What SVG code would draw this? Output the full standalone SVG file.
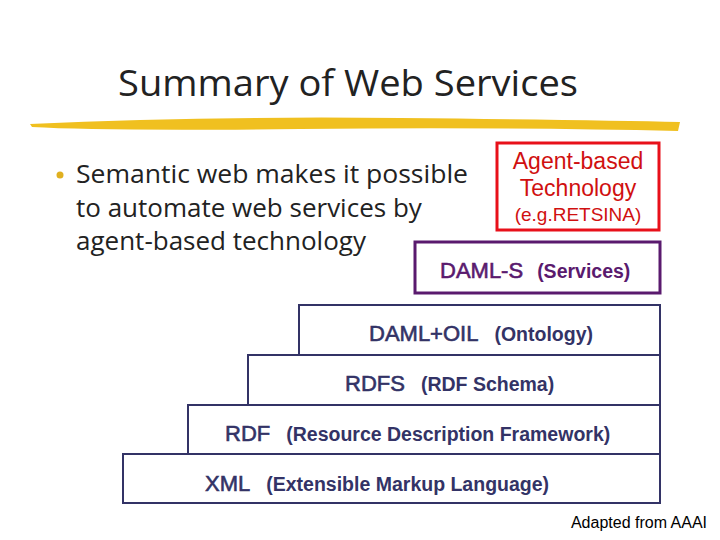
<svg xmlns="http://www.w3.org/2000/svg" width="720" height="540" viewBox="0 0 720 540">
<style>
.t{font-family:"Liberation Sans",Arial,sans-serif;font-weight:bold;fill:#333366}
.s{font-size:22px;font-weight:normal;stroke:#333366;stroke-width:0.6}.m{font-size:19.5px}
.box{fill:#fff;stroke:#333366;stroke-width:2}
</style>
<rect width="720" height="540" fill="#fff"/>
<text x="348" y="96" text-anchor="middle" font-family="Open Sans,sans-serif" font-size="37" fill="#222" textLength="460" lengthAdjust="spacingAndGlyphs">Summary of Web Services</text>
<path d="M30 124 Q200 116 400 118 T680 122 L678 131 Q500 127 300 129 T32 127 Z" fill="#f0c020"/>
<circle cx="60" cy="175" r="3.5" fill="#e0b020"/>
<g font-family="Open Sans,sans-serif" font-size="26" fill="#222">
<text x="76" y="183" textLength="392" lengthAdjust="spacingAndGlyphs">Semantic web makes it possible</text>
<text x="76" y="217">to automate web services by</text>
<text x="76" y="250">agent-based technology</text>
</g>
<g id="xml"><rect class="box" x="123" y="454" width="537" height="49"/><text class="t" x="205" y="491"><tspan class="s">XML</tspan><tspan class="m" dx="16">(Extensible Markup Language)</tspan></text></g>
<g id="rdf"><rect class="box" x="188" y="405" width="472" height="49"/><text class="t" x="225" y="441"><tspan class="s">RDF</tspan><tspan class="m" dx="16">(Resource Description Framework)</tspan></text></g>
<g id="rdfs"><rect class="box" x="248" y="355" width="412" height="50"/><text class="t" x="345" y="391"><tspan class="s">RDFS</tspan><tspan class="m" dx="16">(RDF Schema)</tspan></text></g>
<g id="damloil"><rect class="box" x="299" y="305" width="361" height="50"/><text class="t" x="369" y="341"><tspan class="s">DAML+OIL</tspan><tspan class="m" dx="16">(Ontology)</tspan></text></g>
<g id="damls"><rect x="415" y="242" width="245" height="51" fill="#fff" stroke="#5a1a6e" stroke-width="3"/><text class="t" x="440" y="278" style="fill:#5a1a6e"><tspan class="s" style="stroke:#5a1a6e">DAML-S</tspan><tspan class="m" dx="14">(Services)</tspan></text></g>
<g id="agent"><rect x="497" y="143" width="162" height="87" fill="#fff" stroke="#e8101a" stroke-width="3"/>
<g font-family="Liberation Sans,Arial,sans-serif" fill="#d01010" text-anchor="middle"><text x="578" y="169" font-size="23">Agent-based</text><text x="578" y="196" font-size="23">Technology</text><text x="578" y="221" font-size="19">(e.g.RETSINA)</text></g></g>
<text x="707" y="528" text-anchor="end" font-family="Liberation Sans,Arial,sans-serif" font-size="16" fill="#000">Adapted from AAAI</text>
</svg>
